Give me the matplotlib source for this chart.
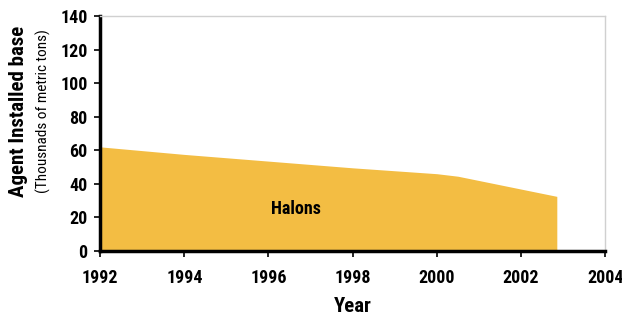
import matplotlib
matplotlib.use("Agg")
import matplotlib.pyplot as plt

# data
years = [1992, 1994, 1996, 1998, 2000, 2000.5, 2002.85]
halons = [62, 57.5, 53.5, 49.5, 46, 44.5, 32.5]

x_ticks = [1992, 1994, 1996, 1998, 2000, 2002, 2004]
y_ticks = [0, 20, 40, 60, 80, 100, 120, 140]

plt.rcParams["font.family"] = ["Roboto Condensed", "DejaVu Sans"]

fig = plt.figure(figsize=(6.22, 3.2), dpi=100)
ax = fig.add_axes([0.161, 0.216, 0.812, 0.734])

ax.fill_between(years, halons, 0, color="#F3BD43", linewidth=0)
ax.text(1996.05, 25, "Halons", fontsize=13, fontweight="bold", va="center")

ax.set_xlim(1992, 2004)
ax.set_ylim(0, 140)
ax.set_xticks(x_ticks)
ax.set_yticks(y_ticks)
ax.tick_params(axis="both", labelsize=13, width=1.2, length=4, direction="out")
ax.tick_params(axis="x", pad=9)
ax.tick_params(axis="y", pad=5)
for lab in ax.get_xticklabels() + ax.get_yticklabels():
    lab.set_fontweight("bold")

for s in ["left", "bottom"]:
    ax.spines[s].set_linewidth(2.5)
    ax.spines[s].set_color("black")
for s in ["top", "right"]:
    ax.spines[s].set_linewidth(1)
    ax.spines[s].set_color("#d0d0d0")

ax.set_xlabel("Year", fontsize=15, fontweight="bold", labelpad=7)
fig.text(0.029, 0.653, "Agent Installed base", rotation=90, fontsize=15,
         fontweight="bold", ha="center", va="center")
fig.text(0.069, 0.653, "(Thousnads of metric tons)", rotation=90, fontsize=11,
         ha="center", va="center")

fig.savefig("out.png", dpi=100)
